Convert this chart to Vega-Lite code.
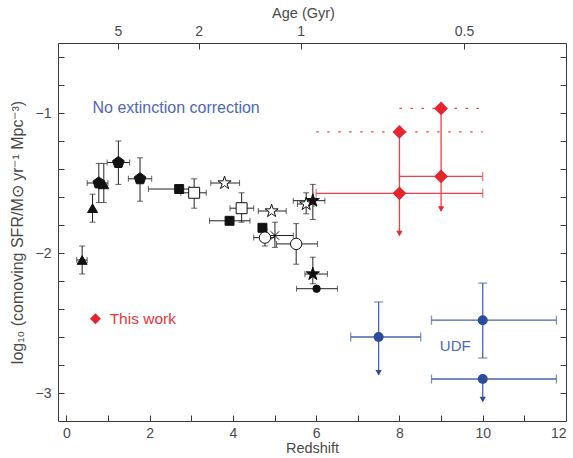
{
  "$schema": "https://vega.github.io/schema/vega-lite/v6.json",
  "width": 508,
  "height": 378,
  "autosize": {"type": "none"},
  "padding": {"left": 58, "top": 43, "right": 7, "bottom": 37},
  "background": "white",
  "config": {
    "view": {"stroke": "#3a3a3a", "strokeWidth": 1},
    "font": "Liberation Sans",
    "axis": {
      "domain": false, "grid": false,
      "labelFont": "Liberation Sans", "labelFontSize": 14, "labelColor": "#4a4a4a",
      "titleFont": "Liberation Sans", "titleFontSize": 14.5, "titleFontWeight": "normal", "titleColor": "#4a4a4a",
      "tickColor": "#3a3a3a", "tickWidth": 1
    }
  },
  "datasets": {
    "black": [
      {"set": "tri", "z": 0.38, "sfr": -2.05, "zlo": 0.25, "zhi": 0.5, "slo": -2.15, "shi": -1.95},
      {"set": "tri", "z": 0.63, "sfr": -1.68, "zlo": null, "zhi": null, "slo": -1.78, "shi": -1.58},
      {"set": "tri", "z": 0.9, "sfr": -1.51, "zlo": null, "zhi": null, "slo": -1.64, "shi": -1.36},
      {"set": "pent", "z": 0.78, "sfr": -1.5, "zlo": 0.5, "zhi": 1.0, "slo": -1.64, "shi": -1.36},
      {"set": "pent", "z": 1.25, "sfr": -1.354, "zlo": 0.98, "zhi": 1.52, "slo": -1.51, "shi": -1.2},
      {"set": "pent", "z": 1.77, "sfr": -1.47, "zlo": 1.49, "zhi": 2.05, "slo": -1.63, "shi": -1.32},
      {"set": "sqF", "z": 2.71, "sfr": -1.543, "zlo": 1.97, "zhi": 2.95, "slo": null, "shi": null},
      {"set": "sqO", "z": 3.07, "sfr": -1.57, "zlo": 2.75, "zhi": 3.36, "slo": -1.68, "shi": -1.47},
      {"set": "starO", "z": 3.8, "sfr": -1.5, "zlo": 3.47, "zhi": 4.16, "slo": null, "shi": null},
      {"set": "sqF", "z": 3.92, "sfr": -1.77, "zlo": 3.44, "zhi": 4.41, "slo": null, "shi": null},
      {"set": "sqO", "z": 4.21, "sfr": -1.68, "zlo": 3.93, "zhi": 4.5, "slo": -1.78, "shi": -1.57},
      {"set": "starO", "z": 4.93, "sfr": -1.7, "zlo": 4.61, "zhi": 5.28, "slo": null, "shi": null},
      {"set": "sqF", "z": 4.71, "sfr": -1.82, "zlo": null, "zhi": null, "slo": null, "shi": null},
      {"set": "circO", "z": 4.77, "sfr": -1.89, "zlo": 4.5, "zhi": 5.0, "slo": -1.95, "shi": -1.83},
      {"set": "cross", "z": 5.01, "sfr": -1.875, "zlo": 4.8, "zhi": 5.45, "slo": -1.96, "shi": -1.78},
      {"set": "circO", "z": 5.52, "sfr": -1.935, "zlo": 5.05, "zhi": 6.03, "slo": -2.08, "shi": -1.79},
      {"set": "starO", "z": 5.76, "sfr": -1.65, "zlo": 5.55, "zhi": 5.95, "slo": -1.72, "shi": -1.57},
      {"set": "starF", "z": 5.92, "sfr": -1.626, "zlo": 5.45, "zhi": 6.21, "slo": -1.76, "shi": -1.51},
      {"set": "starF", "z": 5.92, "sfr": -2.15, "zlo": 5.73, "zhi": 6.27, "slo": -2.22, "shi": -2.03},
      {"set": "circF", "z": 6.01, "sfr": -2.255, "zlo": 5.53, "zhi": 6.51, "slo": null, "shi": null}
    ],
    "red": [
      {"z": 8.0, "sfr": -1.135, "zlo": 6.0, "zhi": 10.0, "kind": "limit", "lim": -1.875},
      {"z": 9.0, "sfr": -0.967, "zlo": 8.0, "zhi": 10.0, "kind": "limit", "lim": -1.7},
      {"z": 9.0, "sfr": -1.453, "zlo": 8.0, "zhi": 10.0, "kind": "measured", "lim": null},
      {"z": 8.0, "sfr": -1.574, "zlo": 6.0, "zhi": 10.0, "kind": "measured", "lim": null}
    ],
    "blue": [
      {"z": 7.5, "sfr": -2.6, "zlo": 6.83, "zhi": 8.51, "top": -2.35, "bot": -2.87, "capTop": -2.35, "capBot": null, "arrow": -2.87},
      {"z": 10.0, "sfr": -2.48, "zlo": 8.77, "zhi": 11.77, "top": -2.215, "bot": -2.75, "capTop": -2.215, "capBot": -2.75, "arrow": null},
      {"z": 10.0, "sfr": -2.9, "zlo": 8.77, "zhi": 11.77, "top": -2.9, "bot": -3.06, "capTop": null, "capBot": null, "arrow": -3.06}
    ],
    "note": [
      {"z": 0.63, "sfr": -0.964, "label": "No extinction correction"}
    ],
    "udf": [
      {"z": 8.97, "sfr": -2.665, "label": "UDF"}
    ],
    "redkey": [
      {"z": 0.7, "sfr": -2.47, "tz": 1.04, "label": "This work"}
    ]
  },
  "resolve": {"axis": {"x": "independent", "y": "independent"}},
  "layer": [
    {
      "data": {"name": "black"},
      "transform": [{"filter": "datum.zlo != null"}],
      "mark": {"type": "rule", "color": "#222222", "strokeWidth": 1},
      "encoding": {
        "x": {"field": "zlo", "type": "quantitative", "scale": {"domain": [-0.2, 12], "nice": false, "zero": false},
              "axis": {"orient": "bottom", "title": "Redshift", "values": [0, 2, 4, 6, 8, 10, 12], "format": "d", "ticks": false, "labelPadding": 5, "titlePadding": 1}},
        "x2": {"field": "zhi"},
        "y": {"field": "sfr", "type": "quantitative", "scale": {"domain": [-3.2, -0.5], "nice": false, "zero": false},
              "axis": {"orient": "left", "title": "log₁₀ (comoving SFR/M⊙ yr⁻¹ Mpc⁻³)", "titleFontSize": 16, "values": [-1, -2, -3], "format": "d", "ticks": false, "labelPadding": 7, "titlePadding": 10}}
      }
    },
    {
      "data": {"name": "black"},
      "transform": [{"filter": "datum.slo != null"}],
      "mark": {"type": "rule", "color": "#222222", "strokeWidth": 1},
      "encoding": {
        "x": {"field": "z", "type": "quantitative", "scale": {"domain": [-0.2, 12], "nice": false, "zero": false},
              "axis": {"orient": "bottom", "title": null, "values": [0, 1, 2, 3, 4, 5, 6, 7, 8, 9, 10, 11], "labels": false, "tickSize": 6, "offset": -6}},
        "y": {"field": "slo", "type": "quantitative", "scale": {"domain": [-3.2, -0.5], "nice": false, "zero": false},
              "axis": {"orient": "left", "title": null, "values": [-3, -2.8, -2.6, -2.4, -2.2, -2, -1.8, -1.6, -1.4, -1.2, -1, -0.8, -0.6], "labels": false, "tickSize": 6, "offset": -6}},
        "y2": {"field": "shi"}
      }
    },
    {
      "data": {"name": "black"},
      "transform": [{"fold": ["zlo", "zhi"], "as": ["end", "zend"]}, {"filter": "datum.zend != null"}],
      "mark": {"type": "tick", "orient": "vertical", "color": "#222222", "size": 6, "thickness": 1},
      "encoding": {
        "x": {"field": "zend", "type": "quantitative", "scale": {"domain": [-0.2, 12], "nice": false, "zero": false},
              "axis": {"orient": "top", "title": "Age (Gyr)", "values": [1.24, 3.18, 5.63, 9.55], "labelExpr": "datum.value < 2 ? '5' : datum.value < 4 ? '2' : datum.value < 7 ? '1' : '0.5'", "ticks": false, "labelPadding": 5, "titlePadding": 4, "titleX": 245}},
        "y": {"field": "sfr", "type": "quantitative", "scale": {"domain": [-3.2, -0.5], "nice": false, "zero": false},
              "axis": {"orient": "right", "title": null, "values": [-3, -2.8, -2.6, -2.4, -2.2, -2, -1.8, -1.6, -1.4, -1.2, -1, -0.8, -0.6], "labels": false, "tickSize": 6, "offset": -6}}
      }
    },
    {
      "data": {"name": "black"},
      "transform": [{"fold": ["slo", "shi"], "as": ["end", "send"]}, {"filter": "datum.send != null"}],
      "mark": {"type": "tick", "orient": "horizontal", "color": "#222222", "size": 6, "thickness": 1},
      "encoding": {
        "x": {"field": "z", "type": "quantitative", "scale": {"domain": [-0.2, 12], "nice": false, "zero": false},
              "axis": {"orient": "top", "title": null, "values": [1.24, 3.18, 5.63, 9.55], "labels": false, "tickSize": 6, "offset": -6}},
        "y": {"field": "send", "type": "quantitative", "scale": {"domain": [-3.2, -0.5], "nice": false, "zero": false}, "axis": null}
      }
    },
    {
      "data": {"name": "black"},
      "mark": {"type": "point", "stroke": "#111111", "strokeWidth": 1, "opacity": 1},
      "encoding": {
        "x": {"field": "z", "type": "quantitative", "scale": {"domain": [-0.2, 12], "nice": false, "zero": false}, "axis": null},
        "y": {"field": "sfr", "type": "quantitative", "scale": {"domain": [-3.2, -0.5], "nice": false, "zero": false}, "axis": null},
        "shape": {"field": "set", "type": "nominal", "legend": null,
                  "scale": {"domain": ["tri", "pent", "sqF", "sqO", "starO", "starF", "circO", "circF", "cross"],
                            "range": ["triangle-up", "M0,-1L0.951,-0.309L0.588,0.809L-0.588,0.809L-0.951,-0.309Z", "square", "square",
                                      "M0,-1L0.2245,-0.309L0.951,-0.309L0.363,0.118L0.588,0.809L0,0.382L-0.588,0.809L-0.363,0.118L-0.951,-0.309L-0.2245,-0.309Z",
                                      "M0,-1L0.2245,-0.309L0.951,-0.309L0.363,0.118L0.588,0.809L0,0.382L-0.588,0.809L-0.363,0.118L-0.951,-0.309L-0.2245,-0.309Z",
                                      "circle", "circle", "M-1,-1L1,1M-1,1L1,-1"]}},
        "fill": {"field": "set", "type": "nominal", "legend": null,
                 "scale": {"domain": ["tri", "pent", "sqF", "sqO", "starO", "starF", "circO", "circF", "cross"],
                           "range": ["#111111", "#111111", "#111111", "#ffffff", "#ffffff", "#111111", "#ffffff", "#111111", "transparent"]}},
        "size": {"field": "set", "type": "nominal", "legend": null,
                 "scale": {"type": "ordinal", "domain": ["tri", "pent", "sqF", "sqO", "starO", "starF", "circO", "circF", "cross"],
                           "range": [100, 150, 80, 120, 190, 190, 130, 55, 70]}}
      }
    },
    {
      "data": {"name": "red"},
      "transform": [{"filter": "datum.kind == 'measured'"}],
      "mark": {"type": "rule", "color": "#ee4047", "strokeWidth": 1.3},
      "encoding": {
        "x": {"field": "zlo", "type": "quantitative", "scale": {"domain": [-0.2, 12], "nice": false, "zero": false}, "axis": null},
        "x2": {"field": "zhi"},
        "y": {"field": "sfr", "type": "quantitative", "scale": {"domain": [-3.2, -0.5], "nice": false, "zero": false}, "axis": null}
      }
    },
    {
      "data": {"name": "red"},
      "transform": [{"filter": "datum.kind == 'limit'"}],
      "mark": {"type": "rule", "color": "#ee4047", "strokeWidth": 1.2, "strokeDash": [2.5, 8.5]},
      "encoding": {
        "x": {"field": "zlo", "type": "quantitative", "scale": {"domain": [-0.2, 12], "nice": false, "zero": false}, "axis": null},
        "x2": {"field": "zhi"},
        "y": {"field": "sfr", "type": "quantitative", "scale": {"domain": [-3.2, -0.5], "nice": false, "zero": false}, "axis": null}
      }
    },
    {
      "data": {"name": "red"},
      "transform": [{"filter": "datum.lim != null"}],
      "mark": {"type": "rule", "color": "#ee4047", "strokeWidth": 1.3},
      "encoding": {
        "x": {"field": "z", "type": "quantitative", "scale": {"domain": [-0.2, 12], "nice": false, "zero": false}, "axis": null},
        "y": {"field": "sfr", "type": "quantitative", "scale": {"domain": [-3.2, -0.5], "nice": false, "zero": false}, "axis": null},
        "y2": {"field": "lim"}
      }
    },
    {
      "data": {"name": "red"},
      "transform": [{"filter": "datum.kind == 'measured'"}, {"fold": ["zlo", "zhi"], "as": ["end", "zend"]}],
      "mark": {"type": "tick", "orient": "vertical", "color": "#ee4047", "size": 9, "thickness": 1.3},
      "encoding": {
        "x": {"field": "zend", "type": "quantitative", "scale": {"domain": [-0.2, 12], "nice": false, "zero": false}, "axis": null},
        "y": {"field": "sfr", "type": "quantitative", "scale": {"domain": [-3.2, -0.5], "nice": false, "zero": false}, "axis": null}
      }
    },
    {
      "data": {"name": "red"},
      "transform": [{"filter": "datum.lim != null"}],
      "mark": {"type": "point", "shape": "triangle-down", "filled": true, "color": "#ea2a30", "size": 40, "opacity": 1, "yOffset": -2},
      "encoding": {
        "x": {"field": "z", "type": "quantitative", "scale": {"domain": [-0.2, 12], "nice": false, "zero": false}, "axis": null},
        "y": {"field": "lim", "type": "quantitative", "scale": {"domain": [-3.2, -0.5], "nice": false, "zero": false}, "axis": null}
      }
    },
    {
      "data": {"name": "red"},
      "mark": {"type": "point", "shape": "diamond", "filled": true, "color": "#e8232b", "size": 190, "opacity": 1},
      "encoding": {
        "x": {"field": "z", "type": "quantitative", "scale": {"domain": [-0.2, 12], "nice": false, "zero": false}, "axis": null},
        "y": {"field": "sfr", "type": "quantitative", "scale": {"domain": [-3.2, -0.5], "nice": false, "zero": false}, "axis": null}
      }
    },
    {
      "data": {"name": "blue"},
      "mark": {"type": "rule", "color": "#4a62ad", "strokeWidth": 1.3},
      "encoding": {
        "x": {"field": "zlo", "type": "quantitative", "scale": {"domain": [-0.2, 12], "nice": false, "zero": false}, "axis": null},
        "x2": {"field": "zhi"},
        "y": {"field": "sfr", "type": "quantitative", "scale": {"domain": [-3.2, -0.5], "nice": false, "zero": false}, "axis": null}
      }
    },
    {
      "data": {"name": "blue"},
      "mark": {"type": "rule", "color": "#4a62ad", "strokeWidth": 1.3},
      "encoding": {
        "x": {"field": "z", "type": "quantitative", "scale": {"domain": [-0.2, 12], "nice": false, "zero": false}, "axis": null},
        "y": {"field": "top", "type": "quantitative", "scale": {"domain": [-3.2, -0.5], "nice": false, "zero": false}, "axis": null},
        "y2": {"field": "bot"}
      }
    },
    {
      "data": {"name": "blue"},
      "transform": [{"fold": ["zlo", "zhi"], "as": ["end", "zend"]}],
      "mark": {"type": "tick", "orient": "vertical", "color": "#4a62ad", "size": 9, "thickness": 1.3},
      "encoding": {
        "x": {"field": "zend", "type": "quantitative", "scale": {"domain": [-0.2, 12], "nice": false, "zero": false}, "axis": null},
        "y": {"field": "sfr", "type": "quantitative", "scale": {"domain": [-3.2, -0.5], "nice": false, "zero": false}, "axis": null}
      }
    },
    {
      "data": {"name": "blue"},
      "transform": [{"fold": ["capTop", "capBot"], "as": ["end", "cap"]}, {"filter": "datum.cap != null"}],
      "mark": {"type": "tick", "orient": "horizontal", "color": "#4a62ad", "size": 9, "thickness": 1.3},
      "encoding": {
        "x": {"field": "z", "type": "quantitative", "scale": {"domain": [-0.2, 12], "nice": false, "zero": false}, "axis": null},
        "y": {"field": "cap", "type": "quantitative", "scale": {"domain": [-3.2, -0.5], "nice": false, "zero": false}, "axis": null}
      }
    },
    {
      "data": {"name": "blue"},
      "transform": [{"filter": "datum.arrow != null"}],
      "mark": {"type": "point", "shape": "triangle-down", "filled": true, "color": "#2d4b9c", "size": 40, "opacity": 1, "yOffset": -2},
      "encoding": {
        "x": {"field": "z", "type": "quantitative", "scale": {"domain": [-0.2, 12], "nice": false, "zero": false}, "axis": null},
        "y": {"field": "arrow", "type": "quantitative", "scale": {"domain": [-3.2, -0.5], "nice": false, "zero": false}, "axis": null}
      }
    },
    {
      "data": {"name": "blue"},
      "mark": {"type": "point", "shape": "circle", "filled": true, "color": "#2d4b9c", "size": 100, "opacity": 1},
      "encoding": {
        "x": {"field": "z", "type": "quantitative", "scale": {"domain": [-0.2, 12], "nice": false, "zero": false}, "axis": null},
        "y": {"field": "sfr", "type": "quantitative", "scale": {"domain": [-3.2, -0.5], "nice": false, "zero": false}, "axis": null}
      }
    },
    {
      "data": {"name": "note"},
      "mark": {"type": "text", "align": "left", "baseline": "middle", "fontSize": 16, "font": "Liberation Sans", "color": "#4e67b5"},
      "encoding": {
        "x": {"field": "z", "type": "quantitative", "scale": {"domain": [-0.2, 12], "nice": false, "zero": false}, "axis": null},
        "y": {"field": "sfr", "type": "quantitative", "scale": {"domain": [-3.2, -0.5], "nice": false, "zero": false}, "axis": null},
        "text": {"field": "label"}
      }
    },
    {
      "data": {"name": "udf"},
      "mark": {"type": "text", "align": "left", "baseline": "middle", "fontSize": 15, "font": "Liberation Sans", "color": "#4e67b5"},
      "encoding": {
        "x": {"field": "z", "type": "quantitative", "scale": {"domain": [-0.2, 12], "nice": false, "zero": false}, "axis": null},
        "y": {"field": "sfr", "type": "quantitative", "scale": {"domain": [-3.2, -0.5], "nice": false, "zero": false}, "axis": null},
        "text": {"field": "label"}
      }
    },
    {
      "data": {"name": "redkey"},
      "mark": {"type": "point", "shape": "diamond", "filled": true, "color": "#e8232b", "size": 120, "opacity": 1},
      "encoding": {
        "x": {"field": "z", "type": "quantitative", "scale": {"domain": [-0.2, 12], "nice": false, "zero": false}, "axis": null},
        "y": {"field": "sfr", "type": "quantitative", "scale": {"domain": [-3.2, -0.5], "nice": false, "zero": false}, "axis": null}
      }
    },
    {
      "data": {"name": "redkey"},
      "mark": {"type": "text", "align": "left", "baseline": "middle", "fontSize": 15.5, "font": "Liberation Sans", "color": "#e8353a"},
      "encoding": {
        "x": {"field": "tz", "type": "quantitative", "scale": {"domain": [-0.2, 12], "nice": false, "zero": false}, "axis": null},
        "y": {"field": "sfr", "type": "quantitative", "scale": {"domain": [-3.2, -0.5], "nice": false, "zero": false}, "axis": null},
        "text": {"field": "label"}
      }
    }
  ]
}
